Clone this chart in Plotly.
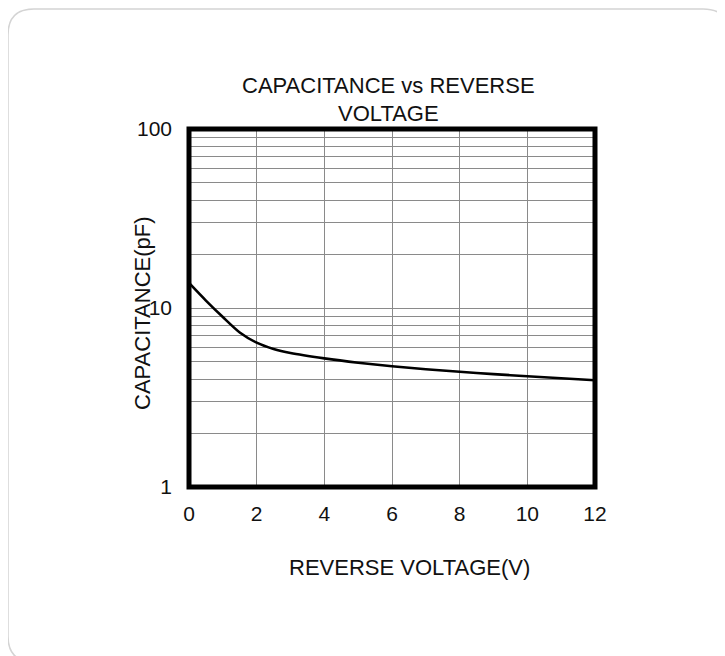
import plotly.graph_objects as go

voltage = [0, 0.5, 1, 1.5, 2, 2.5, 3, 4, 5, 6, 7, 8, 9, 10, 11, 12]
capacitance = [13.8, 11.0, 8.9, 7.3, 6.4, 5.9, 5.6, 5.23, 4.95, 4.73, 4.55, 4.40, 4.27, 4.16, 4.05, 3.95]

x_ticks = [0, 2, 4, 6, 8, 10, 12]
y_grid = [1, 2, 3, 4, 5, 6, 7, 8, 9, 10, 20, 30, 40, 50, 60, 70, 80, 90, 100]
y_labels = {1: "1", 10: "10", 100: "100"}

title_lines = ["CAPACITANCE vs REVERSE", "VOLTAGE"]
x_title = "REVERSE VOLTAGE(V)"
y_title = "CAPACITANCE(pF)"

OFF = 8  # page body margin
W, H = 725, 656
L, R, T, B = 189 - OFF, 725 - (595 - OFF), 129 - OFF, 656 - (487 - OFF)
pw, ph = W - L - R, H - T - B

def px(x):
    return (x - OFF - L) / pw

def py(y):
    return (H - B - (y - OFF)) / ph

FONT = "Liberation Sans, Arial, sans-serif"

fig = go.Figure()
fig.add_trace(go.Scatter(
    x=voltage, y=capacitance, mode="lines",
    line=dict(color="black", width=2.6, shape="spline", smoothing=0.8),
    showlegend=False, hoverinfo="skip",
))

# card border with rounded corners
cx0, cy0, cx1, cy1, rad = 8, 9, 729, 662, 26
path = (
    f"M {px(cx0 + rad)},{py(cy0)} L {px(cx1 - rad)},{py(cy0)} "
    f"Q {px(cx1)},{py(cy0)} {px(cx1)},{py(cy0 + rad)} "
    f"L {px(cx1)},{py(cy1 - rad)} Q {px(cx1)},{py(cy1)} {px(cx1 - rad)},{py(cy1)} "
    f"L {px(cx0 + rad)},{py(cy1)} Q {px(cx0)},{py(cy1)} {px(cx0)},{py(cy1 - rad)} "
    f"L {px(cx0)},{py(cy0 + rad)} Q {px(cx0)},{py(cy0)} {px(cx0 + rad)},{py(cy0)} Z"
)
fig.add_shape(type="path", path=path, xref="paper", yref="paper",
              line=dict(color="#d4d4d4", width=1.5), layer="below")

# thick plot frame
fig.add_shape(type="rect", xref="paper", yref="paper", x0=0, y0=0, x1=1, y1=1,
              line=dict(color="black", width=5), layer="above")

TF = dict(size=22, color="#111", family=FONT)
fig.add_annotation(text=title_lines[0], x=px(388), y=py(85), xref="paper", yref="paper",
                   showarrow=False, font=TF, xanchor="center", yanchor="middle")
fig.add_annotation(text=title_lines[1], x=px(388), y=py(113), xref="paper", yref="paper",
                   showarrow=False, font=TF, xanchor="center", yanchor="middle")
fig.add_annotation(text=x_title, x=px(409), y=py(567), xref="paper", yref="paper",
                   showarrow=False, font=TF, xanchor="center", yanchor="middle")
fig.add_annotation(text=y_title, x=px(142), y=py(313), xref="paper", yref="paper",
                   showarrow=False, font=TF, textangle=-90,
                   xanchor="center", yanchor="middle")

fig.update_xaxes(
    range=[0, 12], tickvals=x_ticks, ticktext=[str(v) for v in x_ticks],
    showgrid=True, gridcolor="#8a8a8a", gridwidth=1, zeroline=False,
    showline=False, ticks="", ticklabelstandoff=12,
    tickfont=dict(size=21, color="#111", family=FONT),
)
fig.update_yaxes(
    type="log", range=[0, 2], tickvals=y_grid,
    ticktext=[y_labels.get(v, "") for v in y_grid],
    showgrid=True, gridcolor="#8a8a8a", gridwidth=1, zeroline=False,
    showline=False, ticks="", ticklabelstandoff=16,
    tickfont=dict(size=21, color="#111", family=FONT),
)

fig.update_layout(
    width=W, height=H,
    margin=dict(l=L, r=R, t=T, b=B),
    paper_bgcolor="white", plot_bgcolor="white",
    showlegend=False,
)

fig.write_html("out.html")
